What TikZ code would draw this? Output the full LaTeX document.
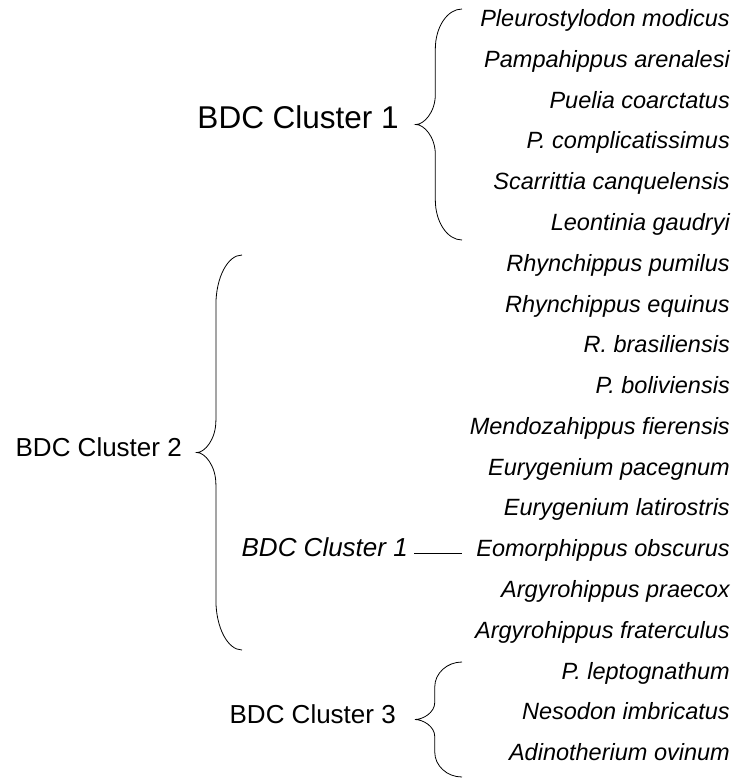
\documentclass[tikz,border=0pt]{standalone}
\usepackage{fontspec}
\setmainfont{Liberation Sans}
\usetikzlibrary{positioning}

\tikzset{
  bracestyle/.style={black, line width=0.8pt},
  species/.style={anchor=east, inner sep=0pt, text height=0.716em, text depth=0pt,
    font=\fontsize{23.5}{28}\selectfont\itshape},
  clusterlabel/.style={inner sep=0pt, text height=0.716em, text depth=0pt},
}

% curly brace: #1 tip name, #2 end x, #3 tip x, #4 top y, #5 bottom y, #6 end curl, #7 tip curl
\newcommand{\clusterbrace}[7]{%
  \pgfmathsetmacro\bx{#3+0.42*(#2-#3)}
  \pgfmathsetmacro\bm{(#4+#5)/2}
  \draw[bracestyle] (#2,#4) .. controls ({\bx+0.45*(#2-\bx)},#4) and (\bx,{#4+0.45*#6}) .. (\bx,{#4+#6})
    -- (\bx,{\bm-#7}) .. controls (\bx,{\bm-0.4*#7}) and ({#3+0.4*(\bx-#3)},\bm) .. (#3,\bm)
    .. controls ({#3+0.4*(\bx-#3)},\bm) and (\bx,{\bm+0.4*#7}) .. (\bx,{\bm+#7})
    -- (\bx,{#5-#6}) .. controls (\bx,{#5-0.45*#6}) and ({\bx+0.45*(#2-\bx)},#5) .. (#2,#5);
  \coordinate (#1) at (#3,\bm);
}

\begin{document}
\begin{tikzpicture}[x=1pt, y=-1pt]
  \useasboundingbox (0,0) rectangle (738,780);
  % species column, right aligned
  \foreach \sp [count=\i from 0] in {Pleurostylodon modicus, Pampahippus arenalesi,
      Puelia coarctatus, P. complicatissimus, Scarrittia canquelensis, Leontinia gaudryi,
      Rhynchippus pumilus, Rhynchippus equinus, R. brasiliensis, P. boliviensis,
      Mendozahippus fierensis, Eurygenium pacegnum, Eurygenium latirostris,
      Eomorphippus obscurus, Argyrohippus praecox, Argyrohippus fraterculus,
      P. leptognathum, Nesodon imbricatus, Adinotherium ovinum}
    \node[species] (sp\i) at (730, {23+40.78*\i}) {\sp};
  % braces
  \clusterbrace{tip1}{462}{416}{9}{240}{40}{30}
  \clusterbrace{tip2}{242}{197}{255}{650}{50}{32}
  \clusterbrace{tip3}{462}{415}{662}{777}{25}{17}
  % cluster labels
  \node[clusterlabel, left=17pt of tip1, font=\fontsize{31.5}{38}\selectfont] (clus1) {BDC Cluster 1};
  \node[clusterlabel, left=15pt of tip2, font=\fontsize{26}{31}\selectfont] (clus2) {BDC Cluster 2};
  \node[clusterlabel, left=19pt of tip3, font=\fontsize{26}{31}\selectfont] (clus3) {BDC Cluster 3};
  % odd one out inside cluster 2
  \node[clusterlabel, anchor=east, font=\fontsize{26}{31}\selectfont\itshape] (sub)
    at (408, {23+40.78*13}) {BDC Cluster 1};
  \draw[line width=0.8pt] ([xshift=6pt]sub.east) -- ([xshift=-14pt]sp13.west);
\end{tikzpicture}
\end{document}
